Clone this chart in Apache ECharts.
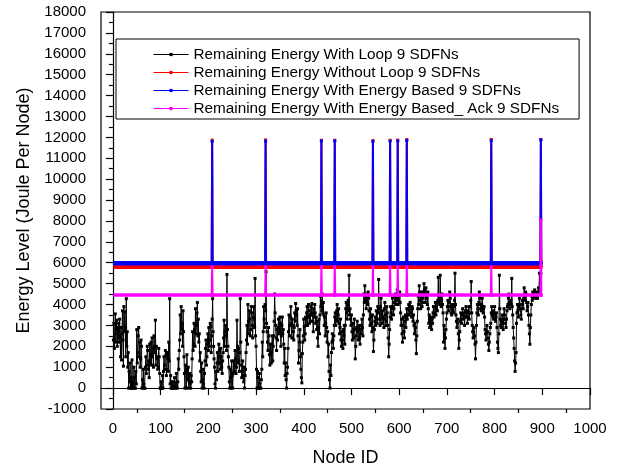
<!DOCTYPE html>
<html>
<head>
<meta charset="utf-8">
<script src="https://cdn.jsdelivr.net/npm/echarts@6/dist/echarts.min.js"></script>
<style>html,body{margin:0;padding:0;background:#fff;}#c{width:624px;height:472px;}</style>
</head>
<body>
<div id="c"></div>
<script>
// ---- data ----
const seriesNames = [
  'Remaining Energy With Loop 9 SDFNs',
  'Remaining Energy Without Loop 9 SDFNs',
  'Remaining Energy With Energy Based 9 SDFNs',
  'Remaining Energy With Energy Based_ Ack 9 SDFNs'
];
const xTickValues = [0,100,200,300,400,500,600,700,800,900,1000];
const xMinorTickValues = [50,150,250,350,450,550,650,750,850,950];

// black series: one value per node, starting at node 1
const loopStartNode = 1;
const loopValues = [
/* 1-49 */ 2300,3100,1900,2600,3550,2200,2800,3250,2000,2900,2400,3100,2200,3300,2450,1500,2900,1350,2600,3700,2300,1050,3900,2700,3650,2900,1500,4280,2000,2700,1000,1700,0,800,300,1200,0,500,0,1350,0,300,0,1000,500,0,0,800,200,
/* 50-99 */ 2800,1200,1700,2500,2900,1500,2200,1000,1400,2300,2000,0,400,0,900,200,0,0,1000,1500,700,1100,2000,1800,900,1300,500,2100,1200,1600,2200,1100,2400,1500,1900,1000,2500,2000,1700,3250,1100,2000,1500,1400,900,1000,1900,1500,700,0,
/* 100-149 */ 0,300,0,0,600,0,800,1500,900,1100,1800,1550,600,900,1700,1400,800,2200,1300,4280,200,600,0,300,0,0,300,100,0,500,0,0,250,700,150,0,300,1400,900,1800,2300,3500,2600,3900,2800,3100,2000,3700,2700,1500,
/* 150-199 */ 700,0,1100,800,0,1600,900,400,1000,0,300,700,200,0,600,300,1400,2700,1800,2100,3100,2800,2000,3800,2600,3000,3600,4100,2500,3300,2200,2600,1300,1700,800,300,1200,0,400,900,200,0,700,1300,1900,2300,1100,1500,2100,2600,
/* 200-249 */ 1800,2900,2000,2300,3100,2950,1700,2500,3300,4280,2700,2000,1400,1000,200,0,800,400,1200,1700,800,1200,2100,1800,1200,900,1900,1500,1000,700,1300,1700,2400,3250,2000,2700,3000,2500,1800,5440,2800,2000,1500,1000,300,0,900,500,0,1300,
/* 250-299 */ 600,0,700,1300,800,1100,1800,1400,700,1000,3250,2000,1200,1900,1300,800,1700,4280,2200,1100,500,800,1300,600,300,1000,0,600,900,1700,2300,3000,2100,4000,3200,2600,3700,3300,2500,2800,3900,3600,3000,2400,3400,3900,3300,2900,5250,2500,
/* 300-349 */ 2000,900,0,800,500,0,0,700,200,0,0,400,900,2200,1500,2700,3900,3300,2900,4000,3700,5570,3100,2700,2200,1800,2900,2500,1600,1100,2100,1700,1200,2100,2500,1300,2000,2500,3200,4500,3600,3000,2400,1800,2800,2300,2900,3300,2600,2700,
/* 350-399 */ 3400,3100,2000,2500,3000,3400,2600,2800,2100,1200,1900,600,1200,400,0,700,1000,1900,2700,3500,2500,3000,3400,3900,3100,2400,3300,3000,2700,2300,2900,3600,3200,4050,3700,3500,3000,3800,2500,1200,1800,2200,2800,1500,900,500,250,1650,2200,2500,
/* 400-449 */ 3300,2950,2300,2600,3400,3000,3600,3900,3000,3400,4000,3700,3100,3500,3200,3900,3500,4050,3600,3200,2700,3800,3400,4000,3600,3100,3400,2800,3200,2400,2000,2900,3300,2600,3500,4400,3900,4200,3700,4500,3600,4100,3500,3000,3400,2500,3100,3600,2900,2200,
/* 450-499 */ 2700,1500,2100,800,400,0,1100,600,1700,2200,2600,2300,1900,2500,3000,3400,3600,3000,3300,3700,4000,3200,3500,3800,3100,2600,2900,3300,2300,2000,2700,2300,1900,2800,2500,3000,2100,3000,3800,4100,3600,3300,4000,4200,3700,5400,3500,3800,3300,3000,
/* 500-549 */ 3500,2700,2300,3100,2800,2400,3300,2800,1400,2000,2500,2900,3200,2700,2300,3000,2900,2400,2100,2800,2600,3000,3300,2900,2500,3500,4500,4100,4900,4400,4200,3800,4500,4100,4000,4600,4300,3700,3300,3000,3800,3400,3100,2700,3500,2900,1750,2300,2800,3200,
/* 550-599 */ 3400,3000,3700,3300,3100,3900,3600,5200,3800,3300,3000,3900,4300,3500,3100,3700,3400,3300,2900,3800,4100,3500,3000,3200,3900,3600,3000,2400,1500,2100,2800,3400,3900,3600,3300,3800,4300,3900,3500,3800,4100,4400,4500,4000,4200,4500,4700,4300,4000,4200,
/* 600-649 */ 4400,4600,4100,3600,3000,3300,2600,2200,3000,3400,2700,2400,3200,3500,2900,3300,3800,3300,3500,3800,4000,3500,3700,4100,3900,3600,3400,3900,3800,3200,3500,3000,2600,3100,2900,2300,1650,2500,3200,3800,4400,4000,4900,4600,4200,3800,4600,4300,3900,4100,
/* 650-699 */ 4300,4600,5000,4700,4500,4100,4800,4400,4300,4000,4600,3800,3100,3500,2900,3300,3000,3400,2800,3300,3100,3600,3900,3400,3600,3900,4100,3500,3800,4100,3700,4200,5300,4100,4400,4000,5400,4300,3900,4200,4500,4000,3600,2200,3000,2600,1900,2400,2800,3300,
/* 700-749 */ 3600,3900,4200,3900,3700,4100,4600,4300,3900,3600,3500,3800,4000,3700,3600,3900,4200,5500,4000,3500,3200,2900,3100,3300,2600,1900,2300,2700,3200,3600,3300,3100,3500,3800,3500,3300,3600,3000,3400,3700,3900,3400,3700,3100,3400,3600,3900,3300,3600,3900,
/* 750-799 */ 4200,5100,3600,3000,2700,2400,2700,2900,2500,2100,1400,2200,3000,3600,4000,3800,3500,4100,4600,4300,4000,3800,3700,4000,4300,3900,3600,3800,3900,3400,2800,2600,2300,2700,3000,2700,2400,2100,1800,2200,2600,2900,3100,3600,3900,3500,3700,3400,3300,3600,
/* 800-849 */ 3900,3500,3200,3400,3600,2900,2200,1900,1700,2600,5400,3800,3300,3000,2900,3200,3500,3100,2800,3300,3800,3500,3300,3100,2900,3300,3700,3900,4000,4300,4500,4100,3800,4000,4200,4000,5250,3900,3500,2900,2400,1900,1300,800,1200,1700,3100,3600,4000,3700,
/* 850-897 */ 3400,3900,4300,4000,3800,3500,3300,3800,4200,4000,3800,4300,4800,4400,4200,4600,4500,4100,3700,3900,4100,3500,3000,2600,2100,2900,3500,4000,4400,4200,4600,4400,4300,4500,4700,4500,4400,4300,4600,4400,4300,4500,4800,4600,5500,4700,5000,5500
];

// spike nodes shared by the flat series
const spikeNodes = [208, 320, 437, 465, 545, 581, 597, 616, 793, 897];
const withoutLoopBase = 5800;
const withoutLoopPeaks = [11870, 11880, 11860, 11860, 11850, 11860, 11870, 11900, 11900, 11900];
const energyBasedBase = 5980;
const energyBasedPeaks = [11810, 11820, 11830, 11830, 11800, 11820, 11830, 11850, 11840, 11880];
const ackBase = 4450;
const ackPeaks = [5800, 5800, 5800, 5800, 5800, 5800, 5800, 5800, 5800, 8050];
const firstNode = 1, lastNode = 900;

const loopData = loopValues.map((v, i) => [loopStartNode + i, v]);

function spikePart(base, peaks) {
  const out = [];
  spikeNodes.forEach((n, i) => {
    out.push([n - 1, base], [n, peaks[i]], [n + 1, base], [n + 1, '-']);
  });
  return out;
}
function basePart(base) {
  return [[firstNode, base], [lastNode, base]];
}

const FONT = '"Liberation Sans", Arial, sans-serif';
const chart = echarts.init(document.getElementById('c'), null, {renderer: 'canvas'});
const plain = v => String(v);

function flatSeries(name, color, base, peaks, baseWidth, spikeWidth, z) {
  return [
    {name, type: 'line', data: spikePart(base, peaks), symbol: 'rect', symbolSize: 3, showSymbol: true,
     connectNulls: false, lineStyle: {color, width: spikeWidth}, itemStyle: {color}, z},
    {name, type: 'line', data: basePart(base), symbol: 'none',
     lineStyle: {color, width: baseWidth}, itemStyle: {color}, z}
  ];
}

chart.setOption({
  animation: false,
  backgroundColor: '#fff',
  grid: {left: 101, right: 34, top: 12, bottom: 63, show: true, borderColor: '#000', borderWidth: 1.2, containLabel: false},
  legend: {
    orient: 'vertical', left: 116, top: 39,
    padding: [8, 20, 3, 37],
    backgroundColor: '#fff', borderColor: '#000', borderWidth: 1,
    itemWidth: 35, itemHeight: 4, itemGap: 3,
    lineStyle: {width: 1},
    textStyle: {fontFamily: FONT, fontSize: 15.3, color: '#000'},
    data: seriesNames
  },
  xAxis: [{
    type: 'value', min: -25, max: 1000,
    axisLine: {show: true, lineStyle: {color: '#000', width: 1.2}},
    splitLine: {show: false},
    axisTick: {show: true, inside: false, length: 7, customValues: xTickValues, lineStyle: {color: '#000', width: 1.2}},
    axisLabel: {customValues: xTickValues, formatter: plain, fontFamily: FONT, fontSize: 15, color: '#000', margin: 12},
    name: 'Node ID', nameLocation: 'middle', nameGap: 40,
    nameTextStyle: {fontFamily: FONT, fontSize: 18, color: '#000'}
  }, {
    type: 'value', min: -25, max: 1000, position: 'bottom',
    axisLine: {show: false}, splitLine: {show: false},
    axisTick: {show: true, length: 4, customValues: xMinorTickValues, lineStyle: {color: '#000', width: 1.2}},
    axisLabel: {show: false}
  }],
  yAxis: {
    type: 'value', min: -1000, max: 18000, interval: 1000,
    axisLine: {show: true, lineStyle: {color: '#000', width: 1.2}},
    splitLine: {show: false},
    axisTick: {show: true, length: 7, lineStyle: {color: '#000', width: 1.2}},
    minorTick: {show: true, splitNumber: 2, length: 4, lineStyle: {color: '#000', width: 1.2}},
    axisLabel: {formatter: plain, fontFamily: FONT, fontSize: 15, color: '#000', margin: 15},
    name: 'Energy Level (Joule Per Node)', nameLocation: 'middle', nameGap: 50,
    nameTextStyle: {fontFamily: FONT, fontSize: 18, color: '#000'}
  },
  series: [
    {name: seriesNames[0], type: 'line', data: loopData, symbol: 'rect', symbolSize: 3,
     lineStyle: {color: '#000', width: 1}, itemStyle: {color: '#000'}, z: 2},
    ...flatSeries(seriesNames[1], '#ff0000', withoutLoopBase, withoutLoopPeaks, 4, 2, 3),
    ...flatSeries(seriesNames[2], '#0000ff', energyBasedBase, energyBasedPeaks, 4.5, 2, 4),
    ...flatSeries(seriesNames[3], '#ff00ff', ackBase, ackPeaks, 3.5, 2, 5)
  ]
});
</script>
</body>
</html>
